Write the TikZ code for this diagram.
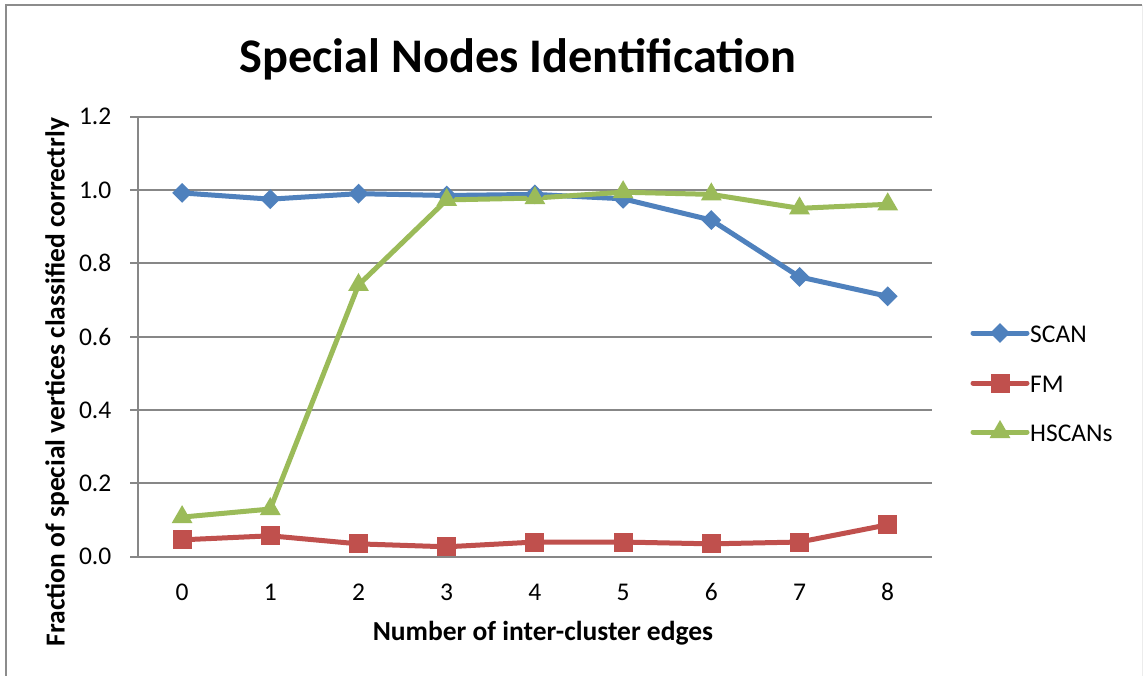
\documentclass[tikz,border=0pt]{standalone}
\usepackage{fontspec}
\setmainfont{Carlito}
\usetikzlibrary{shapes.geometric}
\definecolor{scanblue}{HTML}{4F81BD}
\definecolor{fmred}{HTML}{C0504D}
\definecolor{hsgreen}{HTML}{9BBB59}
\definecolor{gridgray}{HTML}{878787}
\definecolor{framegray}{HTML}{8C8C8C}
\tikzset{
  gridline/.style={draw=gridgray, line width=1.8pt},
  series/.style={line width=5pt, line join=round, line cap=round},
  dmark/.style={diamond, fill=scanblue, inner sep=0pt, minimum width=20pt, minimum height=20pt},
  smark/.style={rectangle, fill=fmred, inner sep=0pt, minimum size=19pt},
  tmark/.style={regular polygon, regular polygon sides=3, fill=hsgreen, inner sep=0pt, minimum size=24pt},
  ticklab/.style={font=\fontsize{25.5}{27}\selectfont, inner sep=0pt},
  axlab/.style={font=\bfseries\fontsize{27.5}{30}\selectfont, inner sep=0pt},
  leglab/.style={font=\fontsize{25.5}{27}\selectfont, inner sep=0pt, anchor=west},
}
\begin{document}
\begin{tikzpicture}[x=1pt, y=-1pt]
\useasboundingbox (0,0) rectangle (1143,676);
\fill[white] (0,0) rectangle (1143,676);
% frame
\draw[framegray, line width=1.5pt] (6,676) -- (6,5) -- (1142,5);
\draw[gray!15, line width=0.8pt] (1142,5) -- (1142,676);
% title
\node[font=\bfseries\fontsize{48.3}{52}\selectfont, inner sep=0pt] (title) at (518,59) {Special Nodes Identification};
% plot area
\begin{scope}[shift={(138pt,-556.7pt)}, x=88.2pt, y=366.7pt]
  \foreach \k in {1,...,6} {
    \draw[gridline] (-0.09,{0.2*\k}) -- (9,{0.2*\k});
  }
  \draw[gridline] (0,0) -- (0,1.2);
  \draw[gridline] (-0.09,0) -- (9,0);
  \foreach \k/\t in {0/0.0,1/0.2,2/0.4,3/0.6,4/0.8,5/1.0,6/1.2} {
    \node[ticklab, anchor=east] (yl\k) at (-0.3,{0.2*\k}) {\t};
  }
  \foreach \i in {0,...,8} {
    \node[ticklab] (xl\i) at ({\i+0.5},-0.097) {\i};
  }
  % data coordinates
  \foreach \i/\v in {0/0.992,1/0.975,2/0.990,3/0.985,4/0.988,5/0.976,6/0.918,7/0.763,8/0.710} {
    \coordinate (s\i) at ({\i+0.5},\v);
  }
  \foreach \i/\v in {0/0.046,1/0.057,2/0.035,3/0.027,4/0.040,5/0.040,6/0.035,7/0.040,8/0.087} {
    \coordinate (f\i) at ({\i+0.5},\v);
  }
  \foreach \i/\v in {0/0.108,1/0.130,2/0.741,3/0.973,4/0.978,5/0.994,6/0.988,7/0.950,8/0.961} {
    \coordinate (h\i) at ({\i+0.5},\v);
  }
\end{scope}
% series lines
\draw[series, scanblue] (s0) -- (s1) -- (s2) -- (s3) -- (s4) -- (s5) -- (s6) -- (s7) -- (s8);
\draw[series, fmred] (f0) -- (f1) -- (f2) -- (f3) -- (f4) -- (f5) -- (f6) -- (f7) -- (f8);
\draw[series, hsgreen] (h0) -- (h1) -- (h2) -- (h3) -- (h4) -- (h5) -- (h6) -- (h7) -- (h8);
% markers
\foreach \i in {0,...,8} {
  \node[dmark] (sm\i) at (s\i) {};
  \node[smark] (fm\i) at (f\i) {};
  \node[tmark] (hm\i) at (h\i) {};
}
% axis titles
\node[axlab] (xtitle) at (543,633) {Number of inter-cluster edges};
\node[axlab, rotate=90] (ytitle) at (57,382) {Fraction of special vertices classified correctrly};
% legend
\coordinate (la1) at (973,333); \coordinate (lb1) at (1027,333);
\coordinate (la2) at (973,383); \coordinate (lb2) at (1027,383);
\coordinate (la3) at (973,432); \coordinate (lb3) at (1027,432);
\draw[series, scanblue] (la1) -- (lb1);
\draw[series, fmred] (la2) -- (lb2);
\draw[series, hsgreen] (la3) -- (lb3);
\node[dmark] (lm1) at (1000,333) {};
\node[smark] (lm2) at (1000,383) {};
\node[tmark] (lm3) at (1000,432) {};
\node[leglab] (lt1) at (1030,334) {SCAN};
\node[leglab] (lt2) at (1030,384) {FM};
\node[leglab] (lt3) at (1030,433) {HSCANs};
\end{tikzpicture}
\end{document}
